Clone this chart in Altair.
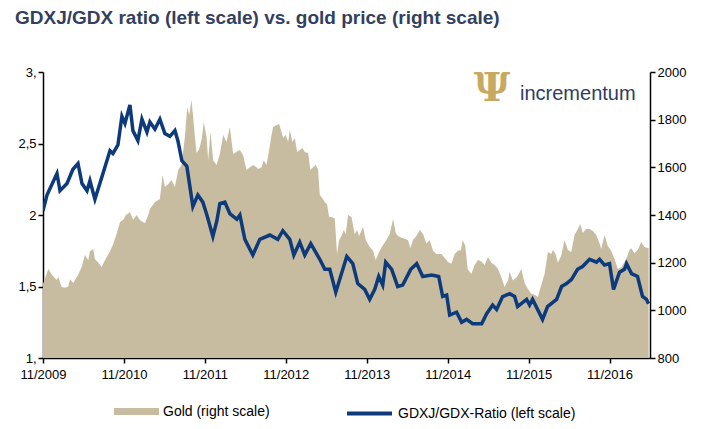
import altair as alt
import pandas as pd

# x values are months since November 2009
gold_month = [0, 0.79, 1.28, 2.02, 2.27, 2.77, 3.26, 3.75, 4.0, 4.49, 5.23, 5.73, 6.22, 6.72, 6.96,
              7.46, 7.70, 8.2, 8.69, 9.19, 9.93, 10.42, 10.91, 11.41, 11.9, 12.3, 12.89, 13.38, 13.88,
              14.37, 15.11, 15.6, 15.85, 16.59, 17.33, 17.73, 18.07, 18.57, 19.06, 19.56, 20.05, 20.54,
              21.04, 21.38, 21.68, 22.02, 22.27, 22.52, 22.77, 23.16, 23.51, 23.85, 24.25, 24.49, 24.84,
              25.23, 25.73, 26.22, 26.72, 27.21, 27.7, 28.2, 28.69, 29.19, 29.68, 30.17, 30.67, 31.16,
              31.65, 31.9, 32.4, 32.74, 33.14, 33.53, 33.88, 34.12, 34.62, 35.01, 35.36, 35.6, 36.0,
              36.35, 36.59, 36.99, 37.33, 37.68, 38.07, 38.47, 38.81, 39.31, 39.65, 40.05, 40.44, 40.79,
              41.04, 41.43, 41.78, 42.12, 42.42, 42.77, 43.26, 43.6, 43.9, 44.25, 44.59, 44.89, 45.23,
              45.73, 46.22, 46.57, 46.86, 47.46, 47.85, 48.44, 48.94, 49.33, 49.83, 50.32, 50.91, 51.41,
              51.9, 52.3, 52.64, 53.14, 53.63, 54.12, 54.47, 54.86, 55.36, 55.85, 56.35, 56.84, 57.33,
              57.83, 58.32, 59.06, 59.56, 60.05, 60.54, 61.04, 61.53, 61.98, 62.22, 62.62, 62.96, 63.51,
              64.0, 64.49, 64.99, 65.48, 65.98, 66.47, 66.96, 67.46, 67.95, 68.44, 68.94, 69.19, 69.68,
              70.27, 70.91, 71.41, 71.9, 72.4, 72.89, 73.38, 73.88, 74.37, 74.86, 75.36, 75.6, 76.0,
              76.35, 76.84, 77.33, 77.83, 78.32, 78.81, 79.31, 79.65, 80.05, 80.54, 81.04, 81.53, 82.02,
              82.52, 82.77, 83.26, 83.75, 84.25, 84.74, 85.23, 85.73, 86.47, 86.96, 87.21, 87.7, 88.2,
              88.69, 89.19, 89.8]
gold_price = [1110, 1173, 1150, 1127, 1140, 1098, 1095, 1100, 1130, 1115, 1150, 1182, 1232, 1210, 1248,
              1257, 1215, 1200, 1182, 1210, 1248, 1278, 1320, 1370, 1380, 1400, 1412, 1380, 1400,
              1379, 1365, 1400, 1425, 1454, 1467, 1568, 1517, 1530, 1547, 1517, 1589, 1610,
              1727, 1853, 1820, 1883, 1811, 1727, 1660, 1677, 1715, 1790, 1727, 1630, 1748,
              1630, 1610, 1656, 1736, 1706, 1769, 1656, 1665, 1673, 1650, 1589, 1600, 1610,
              1600, 1593, 1600, 1630, 1610, 1673, 1736, 1769, 1777, 1782, 1748, 1723, 1736,
              1706, 1757, 1706, 1723, 1664, 1673, 1681, 1664, 1660, 1589, 1600, 1610, 1590,
              1484, 1470, 1454, 1445, 1392, 1392, 1385, 1236, 1295, 1312, 1337, 1320, 1400,
              1392, 1320, 1337, 1312, 1350, 1295, 1266, 1250, 1211, 1245, 1270, 1295, 1320,
              1383, 1325, 1312, 1305, 1300, 1295, 1262, 1295, 1312, 1337, 1320, 1280, 1295,
              1250, 1236, 1236, 1220, 1203, 1195, 1236, 1250, 1253, 1295, 1270, 1173, 1152,
              1190, 1211, 1205, 1190, 1224, 1200, 1190, 1173, 1140, 1098, 1125, 1161, 1125,
              1140, 1173, 1115, 1090, 1070, 1065, 1056, 1106, 1152, 1245, 1236, 1253, 1236,
              1200, 1230, 1295, 1253, 1245, 1316, 1341, 1362, 1325, 1341, 1341, 1333, 1316,
              1280, 1257, 1316, 1270, 1250, 1215, 1173, 1180, 1215, 1253, 1260, 1240, 1253,
              1287, 1266, 1260]

ratio_month = [0, 0.59, 2.07, 2.52, 3.56, 4.44, 5.19, 5.78, 6.52, 6.96, 7.70, 8.89, 9.93, 10.37, 11.11,
               11.7, 12.15, 12.89, 13.33, 14.07, 14.67, 15.41, 15.85, 16.59, 17.33, 18.07, 18.81, 19.56,
               20.0, 20.59, 21.33, 22.22, 22.96, 23.7, 24.3, 25.19, 25.78, 26.22, 26.96, 27.7, 28.74,
               29.19, 29.93, 31.11, 32.15, 33.63, 34.81, 35.56, 36.59, 37.19, 38.07, 38.81, 39.7, 41.04,
               41.78, 42.52, 43.41, 44.0, 45.04, 45.93, 46.67, 47.7, 48.44, 49.19, 49.78, 50.37, 50.81,
               51.7, 52.59, 53.33, 54.52, 55.41, 56.3, 57.63, 58.67, 59.26, 59.85, 60.3, 61.33, 62.07,
               62.81, 63.7, 65.04, 65.78, 66.67, 67.26, 68.15, 69.19, 69.93, 70.37, 71.7, 72.15, 72.59,
               74.07, 74.81, 76.15, 76.89, 77.63, 78.37, 79.26, 80.0, 81.04, 82.07, 82.52, 83.26, 84.0,
               84.59, 85.48, 86.22, 86.52, 87.26, 88.15, 88.89, 89.48, 89.78]
ratio_value = [2.03, 2.14, 2.29, 2.17, 2.22, 2.32, 2.36, 2.22, 2.17, 2.24, 2.11, 2.29, 2.45, 2.43, 2.49,
               2.69, 2.64, 2.77, 2.59, 2.52, 2.67, 2.58, 2.65, 2.60, 2.67, 2.57, 2.55, 2.59,
               2.52, 2.38, 2.34, 2.06, 2.14, 2.09, 2.00, 1.85, 1.96, 2.08, 2.09, 2.01, 1.97,
               2.00, 1.83, 1.72, 1.83, 1.86, 1.83, 1.89, 1.83, 1.72, 1.81, 1.72, 1.80, 1.69,
               1.62, 1.62, 1.46, 1.55, 1.71, 1.66, 1.52, 1.48, 1.41, 1.48, 1.57, 1.51, 1.67,
               1.62, 1.50, 1.51, 1.62, 1.66, 1.57, 1.58, 1.57, 1.43, 1.44, 1.30, 1.32, 1.25,
               1.27, 1.24, 1.24, 1.31, 1.37, 1.34, 1.43, 1.45, 1.43, 1.36, 1.41, 1.37, 1.41,
               1.27, 1.36, 1.41, 1.50, 1.52, 1.55, 1.62, 1.64, 1.69, 1.67, 1.69, 1.65, 1.66,
               1.48, 1.60, 1.62, 1.66, 1.59, 1.57, 1.43, 1.41, 1.38]

year_ticks = [0, 12, 24, 36, 48, 60, 72, 84]
left_ticks = [1, 1.5, 2, 2.5, 3]
right_ticks = [800, 1000, 1200, 1400, 1600, 1800, 2000]

GOLD = "#c8bca0"
BLUE = "#0d3a7a"
FONT = "Liberation Sans"

gold = pd.DataFrame({"month": gold_month, "price": gold_price, "series": "Gold (right scale)"})
ratio = pd.DataFrame({"month": ratio_month, "ratio": ratio_value,
                      "series": "GDXJ/GDX-Ratio (left scale)"})

x_enc = alt.X("month:Q", scale=alt.Scale(domain=[0, 90], nice=False, zero=False),
              axis=alt.Axis(values=year_ticks, title=None, labelFlush=False, labelPadding=5,
                            labelExpr="'11/' + (2009 + datum.value / 12)"))

area = alt.Chart(gold).mark_area(clip=True, opacity=1).encode(
    x=x_enc,
    y=alt.Y("price:Q", scale=alt.Scale(domain=[800, 2000], nice=False, zero=False),
            axis=alt.Axis(orient="right", values=right_ticks, format="d", title=None,
                          labelFlush=False)),
    fill=alt.Fill("series:N", scale=alt.Scale(range=[GOLD]),
                  legend=alt.Legend(title=None, orient="none", legendX=71, legendY=317,
                                    symbolType="M-1,-0.16L1,-0.16L1,0.16L-1,0.16Z",
                                    symbolSize=2025, symbolStrokeWidth=0, symbolOpacity=1)),
)

line = alt.Chart(ratio).mark_line(clip=True, strokeWidth=3.5).encode(
    x="month:Q",
    y=alt.Y("ratio:Q", scale=alt.Scale(domain=[1, 3], nice=False, zero=False),
            axis=alt.Axis(orient="left", values=left_ticks, title=None, labelFlush=False,
                          labelExpr="datum.value == 1 ? '1,' : datum.value == 1.5 ? '1,5' : "
                                    "datum.value == 2 ? '2' : datum.value == 2.5 ? '2,5' : '3,'")),
    stroke=alt.Stroke("series:N", scale=alt.Scale(range=[BLUE]),
                      legend=alt.Legend(title=None, orient="none", legendX=302, legendY=317,
                                        symbolType="stroke", symbolSize=2025,
                                        symbolStrokeWidth=4)),
)

logo_df = pd.DataFrame({"t": ["incrementum"], "icon": ["Ψ"]})
logo = alt.Chart(logo_df).mark_text(align="left", baseline="middle", fontSize=20,
                                    font=FONT, color="#2f3c64").encode(
    x=alt.value(477), y=alt.value(22), text="t:N")
icon = alt.Chart(logo_df).mark_text(align="center", baseline="middle", fontSize=40,
                                    font="DejaVu Serif", fontWeight="bold", color="#c8a961").encode(
    x=alt.value(449), y=alt.value(17), text="icon:N")

chart = alt.layer(area, line, logo, icon).resolve_scale(
    y="independent", fill="independent", stroke="independent"
).properties(
    width=607, height=286,
    autosize=alt.AutoSizeParams(type="none"),
    padding={"left": 35, "top": 64, "right": 45, "bottom": 63},
    title=alt.TitleParams(
        "GDXJ/GDX ratio (left scale) vs. gold price (right scale)",
        anchor="start", frame="group", dx=-28, offset=38,
        font=FONT, fontSize=19, fontWeight="bold", color="#333f5f"),
).configure_view(stroke=None).configure_axis(
    grid=False, domainColor="black", tickColor="black", labelColor="black",
    domainWidth=1.5, tickWidth=1.5, tickSize=5, labelFont=FONT, labelFontSize=13,
).configure_legend(labelFont=FONT, labelFontSize=14, labelColor="black", labelLimit=0)

chart.save("out.html", embed_options={"renderer": "svg", "actions": False})
